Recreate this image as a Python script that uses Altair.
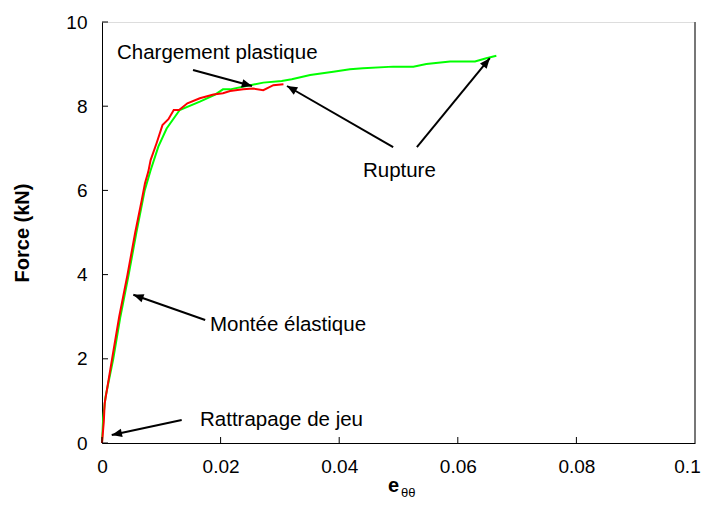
import math
import altair as alt
import pandas as pd

# ---- data ----
green_e = [0.0, 0.0002, 0.0006, 0.0019, 0.0031, 0.0045, 0.0058, 0.0072, 0.0082, 0.0095,
           0.0109, 0.0131, 0.0165, 0.0190, 0.0204, 0.0216, 0.0250, 0.0272, 0.0303, 0.0320,
           0.0351, 0.0390, 0.0418, 0.0440, 0.0491, 0.0525, 0.0547, 0.0587, 0.0629, 0.0648, 0.0665]
green_f = [0.0, 0.6, 1.1, 2.0, 3.0, 4.0, 5.0, 6.0, 6.48, 7.04,
           7.47, 7.91, 8.11, 8.27, 8.40, 8.40, 8.50, 8.56, 8.60, 8.64,
           8.74, 8.82, 8.88, 8.90, 8.94, 8.94, 9.00, 9.06, 9.06, 9.14, 9.20]

red_e = [0.0, 0.0003, 0.00045, 0.0017, 0.0029, 0.0043, 0.0056, 0.0067, 0.00725, 0.0078,
         0.0082, 0.0092, 0.0102, 0.0112, 0.0121, 0.0130, 0.0144, 0.0165, 0.0188, 0.0204,
         0.0216, 0.0238, 0.0255, 0.0272, 0.0289, 0.0306]
red_f = [0.0, 0.5, 0.94, 2.0, 3.0, 4.0, 5.0, 5.77, 6.17, 6.44,
         6.72, 7.12, 7.55, 7.69, 7.91, 7.91, 8.07, 8.19, 8.28, 8.31,
         8.36, 8.40, 8.42, 8.38, 8.50, 8.52]

x_ticks = [0, 0.02, 0.04, 0.06, 0.08, 0.1]
y_ticks = [0, 2, 4, 6, 8, 10]

# annotations (data coordinates)
label_text = ["Chargement plastique", "Rupture", "Montée élastique", "Rattrapage de jeu"]
label_e = [0.00253, 0.0440, 0.0182, 0.01653]
label_f = [9.12, 6.31, 2.66, 0.40]

arrow_e0 = [0.01535, 0.0491, 0.0531, 0.0174, 0.01344]
arrow_f0 = [8.86, 7.03, 7.03, 2.92, 0.546]
arrow_e1 = [0.0253, 0.0312, 0.0654, 0.00528, 0.00164]
arrow_f1 = [8.48, 8.48, 9.14, 3.52, 0.19]

W, H = 593, 421
X_MAX, Y_MAX = 0.1, 10
FONT = "Liberation Sans"

green = pd.DataFrame({"e": green_e, "F": green_f, "i": range(len(green_e))})
red = pd.DataFrame({"e": red_e, "F": red_f, "i": range(len(red_e))})
labels = pd.DataFrame({"t": label_text, "e": label_e, "F": label_f})

angles = []
for a, b, c, d in zip(arrow_e0, arrow_f0, arrow_e1, arrow_f1):
    dx = (c - a) * W / X_MAX
    dy = (d - b) * H / Y_MAX
    angles.append(math.degrees(math.atan2(dx, dy)) % 360)
arrows = pd.DataFrame({"e0": arrow_e0, "f0": arrow_f0, "e1": arrow_e1, "f1": arrow_f1, "ang": angles})

xs = alt.Scale(domain=[0, X_MAX], nice=False, zero=False)
ys = alt.Scale(domain=[0, Y_MAX], nice=False, zero=False)

x_axis = alt.Axis(values=x_ticks, format="~g", title=None, ticks=False, tickSize=0,
                  labelPadding=14, labelFontSize=19, labelFont=FONT, labelColor="black",
                  domainColor="black", grid=False, labelFlush=False,
                  labelOffset={"condition": {"test": "datum.value >= 0.1", "value": -8}, "value": 0})
y_axis = alt.Axis(values=y_ticks, title="Force (kN)", ticks=False, tickSize=0,
                  labelPadding=15, labelFontSize=19, labelFont=FONT, labelColor="black",
                  domainColor="black", grid=False, titleFont=FONT, titleFontSize=20,
                  titleFontWeight="bold", titleColor="black", titlePadding=33,
                  labelFlush=False)

base_g = alt.Chart(green).mark_line(color="#00ff00", strokeWidth=2).encode(
    x=alt.X("e:Q", scale=xs, axis=x_axis),
    y=alt.Y("F:Q", scale=ys, axis=y_axis),
    order="i:Q",
)
line_r = alt.Chart(red).mark_line(color="#ff0000", strokeWidth=2).encode(
    x=alt.X("e:Q", scale=xs),
    y=alt.Y("F:Q", scale=ys),
    order="i:Q",
)

ytk = alt.Chart(pd.DataFrame({"v": y_ticks})).mark_rule(color="black", strokeWidth=1).encode(
    y=alt.Y("v:Q", scale=ys), x=alt.value(0), x2=alt.value(6))
xtk = alt.Chart(pd.DataFrame({"v": x_ticks})).mark_rule(color="black", strokeWidth=1).encode(
    x=alt.X("v:Q", scale=xs), y=alt.value(H), y2=alt.value(H - 6))

right_border = alt.Chart(pd.DataFrame({"k": [0]})).mark_rule(color="#777777", strokeWidth=2).encode(
    x=alt.value(W), y=alt.value(0), y2=alt.value(H))

arrow_lines = alt.Chart(arrows).mark_rule(color="black", strokeWidth=2).encode(
    x=alt.X("e0:Q", scale=xs), y=alt.Y("f0:Q", scale=ys),
    x2="e1:Q", y2="f1:Q")
arrow_heads = alt.Chart(arrows).mark_point(
    shape="M0,0L-0.42,1L0.42,1Z", filled=True, color="black", opacity=1, size=420, strokeWidth=0
).encode(
    x=alt.X("e1:Q", scale=xs), y=alt.Y("f1:Q", scale=ys),
    angle=alt.Angle("ang:Q", scale=None))

texts = alt.Chart(labels).mark_text(
    align="left", baseline="alphabetic", font=FONT, fontSize=20.5, color="black"
).encode(x=alt.X("e:Q", scale=xs), y=alt.Y("F:Q", scale=ys), text="t:N")

xt_e = alt.Chart(pd.DataFrame({"t": ["e"]})).mark_text(
    align="left", baseline="alphabetic", font=FONT, fontSize=20, fontWeight="bold", color="black"
).encode(x=alt.value(286), y=alt.value(H + 49), text="t:N")
xt_sub = alt.Chart(pd.DataFrame({"t": ["θθ"]})).mark_text(
    align="left", baseline="alphabetic", font=FONT, fontSize=13, color="black"
).encode(x=alt.value(299), y=alt.value(H + 54), text="t:N")

chart = alt.layer(
    base_g, line_r, ytk, xtk, right_border, arrow_lines, arrow_heads, texts, xt_e, xt_sub
).properties(
    width=W, height=H,
    padding={"left": 94, "top": 14, "right": 7, "bottom": 60},
    autosize=alt.AutoSizeParams(type="none"),
).configure_view(stroke="black", strokeWidth=1).configure(background="white")

chart.save("out.html", embed_options={"renderer": "svg", "actions": False})
